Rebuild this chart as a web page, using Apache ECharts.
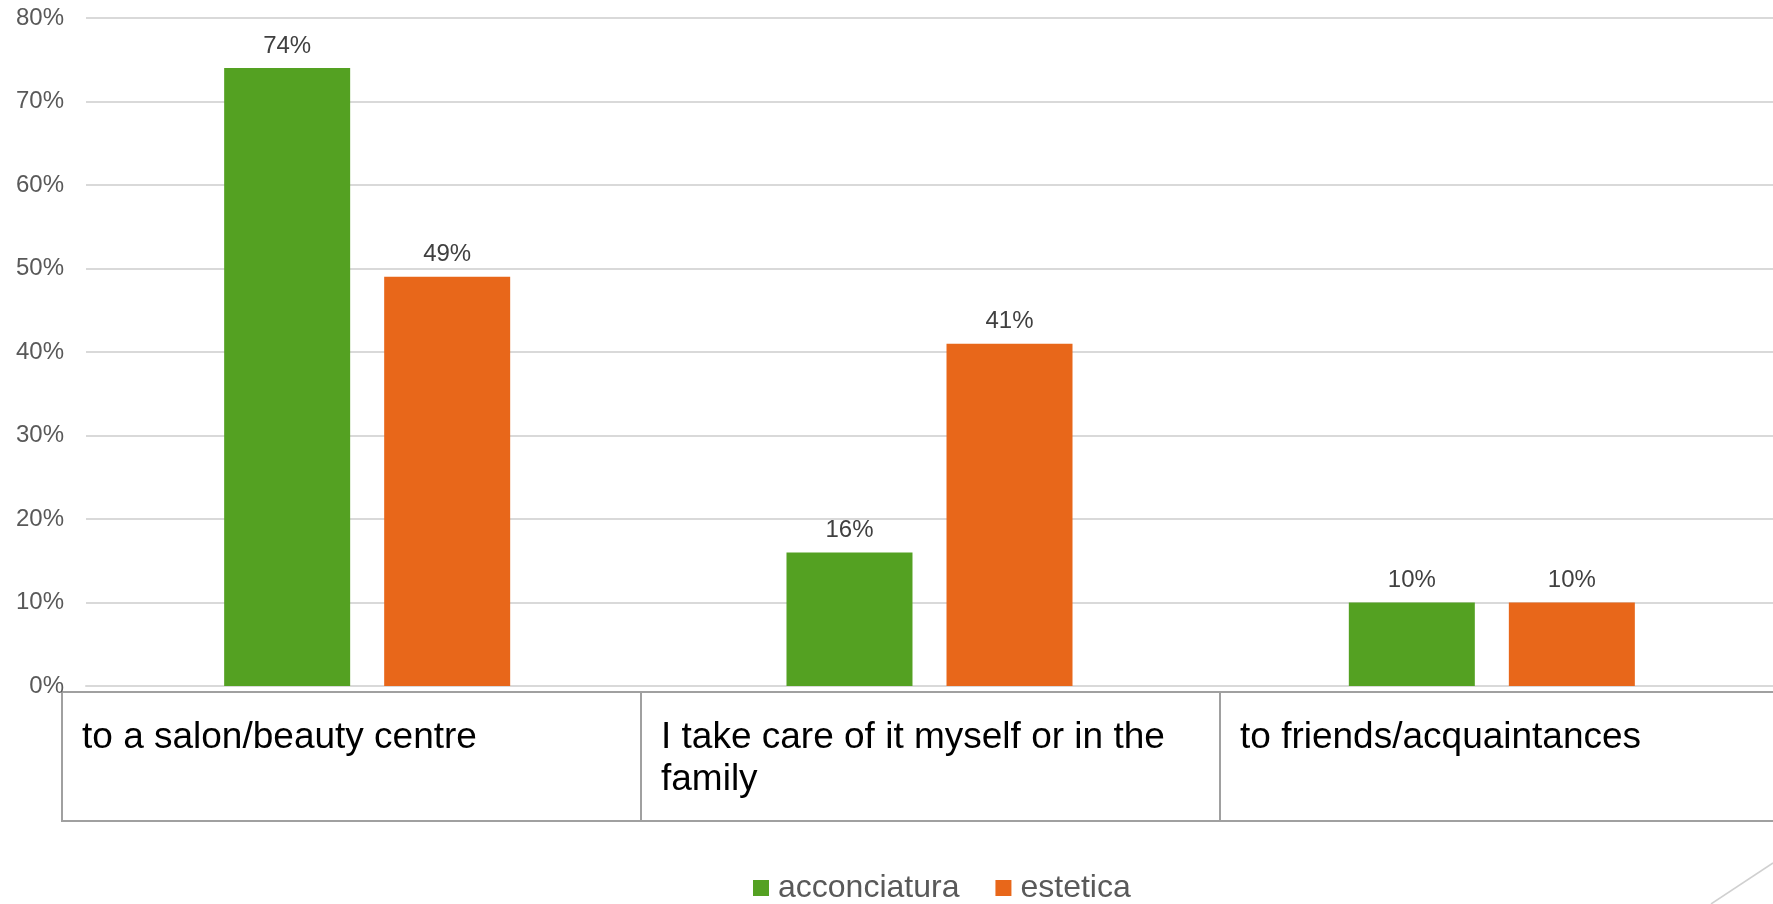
<!DOCTYPE html>
<html>
<head>
<meta charset="utf-8">
<script src="https://cdn.jsdelivr.net/npm/echarts@6/dist/echarts.min.js"></script>
<style>
  html, body { margin: 0; padding: 0; background: #fff; }
  #myChart { width: 1773px; height: 904px; }
</style>
</head>
<body>
<div id="myChart"></div>
<script>
// dati del grafico
const categories = ['to a salon/beauty centre', 'I take care of it myself or in the family', 'to friends/acquaintances'];
const acconciatura = [74, 16, 10];
const estetica = [49, 41, 10];
const yTicks = [0, 10, 20, 30, 40, 50, 60, 70, 80];

const FONT = "'Liberation Sans', Arial, sans-serif";

let myChart = echarts.init(document.getElementById('myChart'));
myChart.setOption({
  backgroundColor: '#ffffff',
  animation: false,
  color: ['#54A122', '#E8671A'],
  textStyle: { fontFamily: FONT },
  legend: {
    data: ['acconciatura', 'estetica'],
    left: 753,
    top: 871,
    padding: 0,
    icon: 'rect',
    itemWidth: 16,
    itemHeight: 16,
    itemGap: 36,
    textStyle: {
      fontFamily: FONT,
      fontSize: 32,
      color: '#595959',
      lineHeight: 34,
      padding: [0, 0, 0, 4]
    }
  },
  grid: [
    { left: 86, right: 0, top: 18, bottom: 218, outerBoundsMode: 'none' },
    // tabella dati sotto il grafico
    { left: 62, top: 692, width: 1737, height: 129, show: true, borderColor: '#a0a0a0', borderWidth: 2, outerBoundsMode: 'none' }
  ],
  xAxis: [
    {
      type: 'category',
      gridIndex: 0,
      data: categories,
      axisLine: { show: true, lineStyle: { color: '#d9d9d9', width: 2 } },
      axisTick: { show: false },
      axisLabel: { show: false }
    },
    {
      // colonne della tabella: l'ultima voce vuota chiude il bordo destro
      type: 'category',
      gridIndex: 1,
      position: 'top',
      boundaryGap: false,
      data: categories.concat(['']),
      axisLine: { show: false },
      axisTick: { show: false },
      splitLine: { show: true, lineStyle: { color: '#a0a0a0', width: 2 } },
      axisLabel: {
        inside: true,
        interval: 0,
        margin: 25,
        align: 'left',
        verticalAlign: 'top',
        width: 530,
        overflow: 'break',
        fontFamily: FONT,
        fontSize: 37,
        lineHeight: 42,
        color: '#000000',
        padding: [0, 0, 0, 20]
      }
    }
  ],
  yAxis: [
    {
      type: 'value',
      gridIndex: 0,
      min: yTicks[0],
      max: yTicks[yTicks.length - 1],
      interval: 10,
      axisLine: { show: false },
      axisTick: { show: false },
      splitLine: { show: true, lineStyle: { color: '#d9d9d9', width: 2 } },
      axisLabel: {
        margin: 22,
        fontFamily: FONT,
        fontSize: 24,
        color: '#595959',
        formatter: '{value}%'
      }
    },
    {
      type: 'value',
      gridIndex: 1,
      show: false
    }
  ],
  series: [
    {
      name: 'acconciatura',
      type: 'bar',
      xAxisIndex: 0,
      yAxisIndex: 0,
      data: acconciatura,
      barWidth: 126,
      barGap: '27%',
      label: {
        show: true,
        position: 'top',
        distance: 10,
        fontFamily: FONT,
        fontSize: 24,
        color: '#404040',
        formatter: '{c}%'
      }
    },
    {
      name: 'estetica',
      type: 'bar',
      xAxisIndex: 0,
      yAxisIndex: 0,
      data: estetica,
      barWidth: 126,
      barGap: '27%',
      label: {
        show: true,
        position: 'top',
        distance: 10,
        fontFamily: FONT,
        fontSize: 24,
        color: '#404040',
        formatter: '{c}%'
      }
    }
  ],
  graphic: [
    {
      // linea decorativa della slide in basso a destra
      type: 'line',
      shape: { x1: 1711, y1: 904, x2: 1773, y2: 863 },
      style: { stroke: '#d0d0d0', lineWidth: 1.5 }
    }
  ]
});
</script>
</body>
</html>
